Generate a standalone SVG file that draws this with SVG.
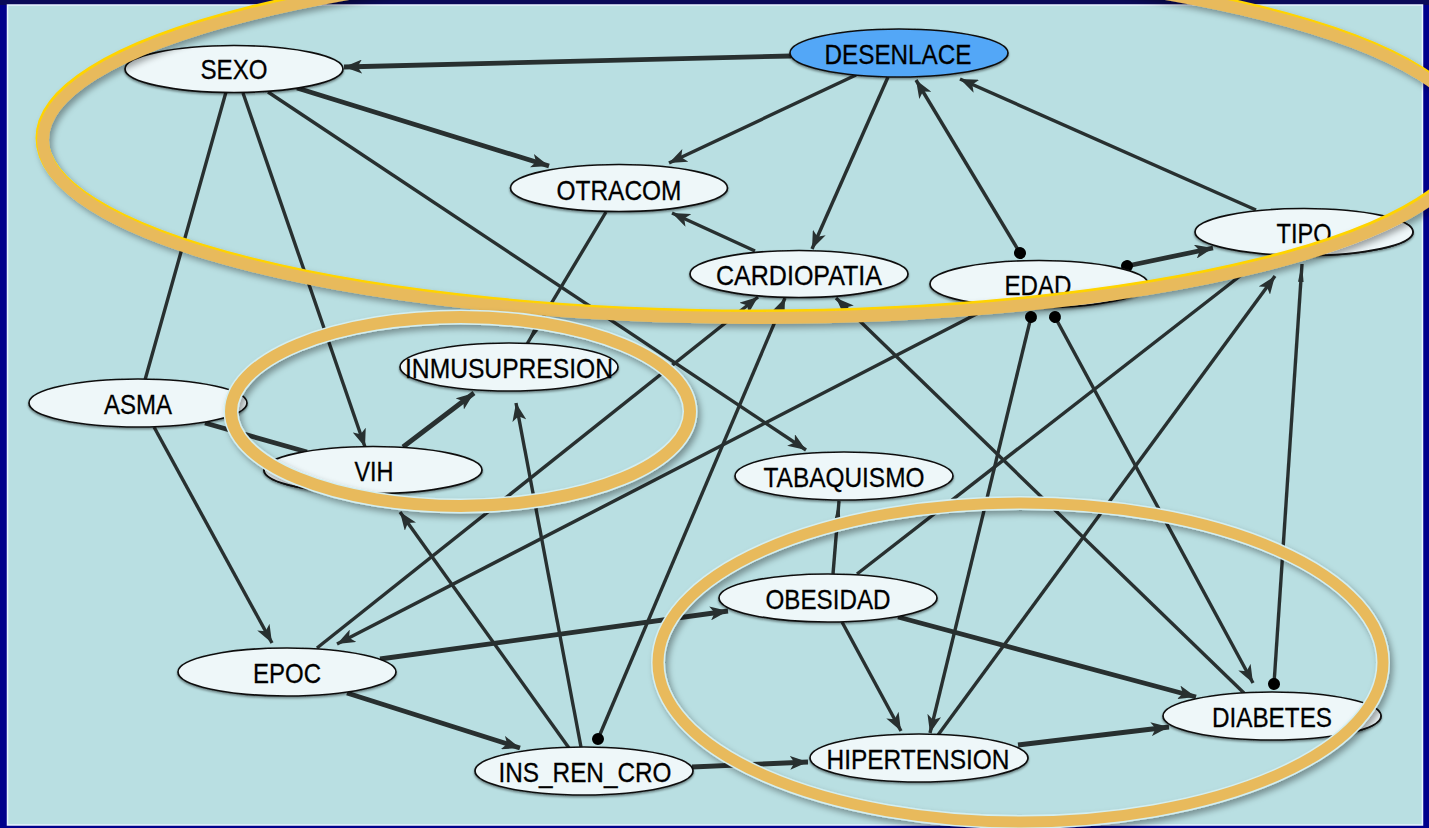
<svg xmlns="http://www.w3.org/2000/svg" width="1429" height="828" viewBox="0 0 1429 828">
  <style>
    .edge { stroke: #283030; stroke-width: 3.4; fill: none; }
    .thick { stroke-width: 4.8; }
    .node ellipse { fill: #eef7f9; stroke: #111; stroke-width: 1.7; }
    .node text { font-family: "Liberation Sans", Arial, sans-serif; font-size: 28.5px; fill: #000; text-anchor: middle; stroke: #000; stroke-width: 0.3; }
    .shade { fill: #b9bfc1; stroke: #111; stroke-width: 1.7; }
    .band { fill: none; }
  </style>
  <defs>
    <marker id="arrow" markerUnits="userSpaceOnUse" viewBox="0 0 18 14" refX="18" refY="7" markerWidth="18" markerHeight="14" orient="auto">
      <path d="M0,0 L18,7 L0,14 L4.5,7 z" fill="#283030"/>
    </marker>
    <marker id="arrowThin" markerUnits="userSpaceOnUse" viewBox="0 0 18 14" refX="18" refY="7" markerWidth="18" markerHeight="14" orient="auto">
      <path d="M0,4.2 L18,7 L0,9.8 z" fill="#283030"/>
    </marker>
    <marker id="dot" markerUnits="userSpaceOnUse" viewBox="0 0 13 13" refX="6.5" refY="6.5" markerWidth="13" markerHeight="13" orient="auto">
      <circle cx="6.5" cy="6.5" r="6" fill="#000"/>
    </marker>
    <filter id="nodeShadow" x="-10%" y="-30%" width="120%" height="170%">
      <feDropShadow dx="0" dy="1.5" stdDeviation="1" flood-color="#000" flood-opacity="0.45"/>
    </filter>
    <filter id="bandShadow" x="-5%" y="-10%" width="110%" height="125%">
      <feDropShadow dx="3" dy="4" stdDeviation="3" flood-color="#000" flood-opacity="0.35"/>
    </filter>
    <!-- regions lying outside each highlight ring -->
    <clipPath id="outBig">
      <path clip-rule="evenodd" d="M0,0 H1429 V828 H0 Z M43,140 a714,178 0 1,0 1428,0 a714,178 0 1,0 -1428,0 Z"/>
    </clipPath>
    <clipPath id="outSmall">
      <path clip-rule="evenodd" d="M0,0 H1429 V828 H0 Z M231,411.5 a229.5,94.5 0 1,0 459,0 a229.5,94.5 0 1,0 -459,0 Z"/>
    </clipPath>
    <clipPath id="outLow">
      <path clip-rule="evenodd" d="M0,0 H1429 V828 H0 Z M658,662.5 a362.5,159.5 0 1,0 725,0 a362.5,159.5 0 1,0 -725,0 Z"/>
    </clipPath>
  </defs>

  <!-- frame and panel -->
  <rect x="0" y="0" width="1429" height="828" fill="#00008c"/>
  <rect x="0" y="0" width="1429" height="5" fill="#0a0a58"/>
  <rect x="7.5" y="5" width="1415" height="820" fill="#b9dfe2" stroke="#e8f4ff" stroke-width="1.5"/>

  <!-- connectors -->
  <g id="connectors">
    <line class="edge thick" x1="791" y1="56" x2="344" y2="67" marker-end="url(#arrow)"/>
    <line class="edge thick" x1="297" y1="88" x2="549" y2="166" marker-end="url(#arrow)"/>
    <line class="edge" x1="856" y1="75" x2="669" y2="163" marker-end="url(#arrow)"/>
    <line class="edge" x1="888" y1="77" x2="812" y2="249" marker-end="url(#arrow)"/>
    <line class="edge" x1="1020" y1="253" x2="916" y2="80" marker-start="url(#dot)" marker-end="url(#arrow)"/>
    <line class="edge" x1="1256" y1="210" x2="960" y2="79" marker-end="url(#arrow)"/>
    <line class="edge thick" x1="1127" y1="266" x2="1213" y2="248" marker-start="url(#dot)" marker-end="url(#arrow)"/>
    <line class="edge" x1="755" y1="251" x2="672" y2="213" marker-end="url(#arrow)"/>
    <line class="edge" x1="226" y1="92" x2="145" y2="380"/>
    <line class="edge" x1="243" y1="93" x2="365" y2="447" marker-end="url(#arrow)"/>
    <line class="edge" x1="268" y1="92" x2="806" y2="450" marker-end="url(#arrow)"/>
    <line class="edge" x1="606" y1="212" x2="527" y2="344" marker-end="url(#arrowThin)"/>
    <line class="edge thick" x1="205" y1="423" x2="307" y2="452"/>
    <line class="edge" x1="154" y1="427" x2="272" y2="643" marker-end="url(#arrow)"/>
    <line class="edge thick" x1="403" y1="447" x2="474" y2="393" marker-end="url(#arrow)"/>
    <line class="edge" x1="569" y1="748" x2="400" y2="512" marker-end="url(#arrow)"/>
    <line class="edge" x1="581" y1="747" x2="516" y2="403" marker-end="url(#arrow)"/>
    <line class="edge" x1="317" y1="648" x2="758" y2="297" marker-end="url(#arrow)"/>
    <line class="edge" x1="992" y1="306" x2="337" y2="644" marker-start="url(#dot)" marker-end="url(#arrow)"/>
    <line class="edge" x1="598" y1="739" x2="785" y2="298" marker-start="url(#dot)" marker-end="url(#arrow)"/>
    <line class="edge" x1="1245" y1="694" x2="836" y2="298" marker-end="url(#arrow)"/>
    <line class="edge" x1="857" y1="574" x2="1258" y2="262" marker-end="url(#arrowThin)"/>
    <line class="edge" x1="938" y1="735" x2="1275" y2="276" marker-end="url(#arrow)"/>
    <line class="edge" x1="1274" y1="684" x2="1302" y2="264" marker-start="url(#dot)" marker-end="url(#arrowThin)"/>
    <line class="edge" x1="1031" y1="317" x2="930" y2="733" marker-start="url(#dot)" marker-end="url(#arrow)"/>
    <line class="edge" x1="1055" y1="317" x2="1253" y2="683" marker-start="url(#dot)" marker-end="url(#arrow)"/>
    <line class="edge" x1="842" y1="622" x2="901" y2="731" marker-end="url(#arrow)"/>
    <line class="edge thick" x1="898" y1="617" x2="1196" y2="697" marker-end="url(#arrow)"/>
    <line class="edge thick" x1="1018" y1="745" x2="1169" y2="727" marker-end="url(#arrow)"/>
    <line class="edge thick" x1="692" y1="767" x2="808" y2="762" marker-end="url(#arrow)"/>
    <line class="edge thick" x1="380" y1="659" x2="728" y2="611" marker-end="url(#arrow)"/>
    <line class="edge thick" x1="347" y1="693" x2="520" y2="748" marker-end="url(#arrow)"/>
    <line class="edge" x1="833" y1="574" x2="839" y2="501" marker-end="url(#arrowThin)"/>
  </g>

  <!-- nodes -->
  <g id="node-sexo" class="node"><ellipse cx="234" cy="69" rx="109" ry="23.5" filter="url(#nodeShadow)"/><text x="234" y="79" textLength="67" lengthAdjust="spacingAndGlyphs">SEXO</text></g>
  <g id="node-desenlace" class="node"><ellipse cx="899" cy="53" rx="109" ry="24" style="fill:#52a7f7" filter="url(#nodeShadow)"/><text x="898" y="64" textLength="147" lengthAdjust="spacingAndGlyphs">DESENLACE</text></g>
  <g id="node-otracom" class="node"><ellipse cx="619" cy="188" rx="108.5" ry="23.5" filter="url(#nodeShadow)"/><text x="619" y="200" textLength="125" lengthAdjust="spacingAndGlyphs">OTRACOM</text></g>
  <g id="node-cardiopatia" class="node"><ellipse cx="799" cy="274" rx="109" ry="23.5" filter="url(#nodeShadow)"/><text x="799" y="285" textLength="166" lengthAdjust="spacingAndGlyphs">CARDIOPATIA</text></g>
  <g id="node-edad" class="node"><ellipse cx="1039" cy="284" rx="109" ry="23.5" filter="url(#nodeShadow)"/><text x="1038" y="295" textLength="67" lengthAdjust="spacingAndGlyphs">EDAD</text></g>
  <g id="node-tipo" class="node"><ellipse cx="1304" cy="232" rx="109" ry="23.5" filter="url(#nodeShadow)"/><ellipse class="shade" cx="1304" cy="232" rx="109" ry="23.5" clip-path="url(#outBig)"/><text x="1304" y="243" textLength="55" lengthAdjust="spacingAndGlyphs">TIPO</text></g>
  <g id="node-asma" class="node"><ellipse cx="138" cy="403" rx="109" ry="24" filter="url(#nodeShadow)"/><text x="138" y="414" textLength="68" lengthAdjust="spacingAndGlyphs">ASMA</text></g>
  <g id="node-inmusupresion" class="node"><ellipse cx="509" cy="367" rx="109" ry="24" filter="url(#nodeShadow)"/><text x="509" y="378" textLength="208" lengthAdjust="spacingAndGlyphs">INMUSUPRESION</text></g>
  <g id="node-vih" class="node"><ellipse cx="373" cy="470" rx="109" ry="23.5" filter="url(#nodeShadow)"/><ellipse class="shade" cx="373" cy="470" rx="109" ry="23.5" clip-path="url(#outSmall)"/><text x="374" y="481" textLength="39" lengthAdjust="spacingAndGlyphs">VIH</text></g>
  <g id="node-tabaquismo" class="node"><ellipse cx="844" cy="476" rx="109" ry="24" filter="url(#nodeShadow)"/><text x="844" y="487" textLength="161" lengthAdjust="spacingAndGlyphs">TABAQUISMO</text></g>
  <g id="node-obesidad" class="node"><ellipse cx="828" cy="598" rx="109" ry="24" filter="url(#nodeShadow)"/><text x="828" y="609" textLength="125" lengthAdjust="spacingAndGlyphs">OBESIDAD</text></g>
  <g id="node-epoc" class="node"><ellipse cx="287" cy="672" rx="109" ry="24" filter="url(#nodeShadow)"/><text x="287" y="683" textLength="68" lengthAdjust="spacingAndGlyphs">EPOC</text></g>
  <g id="node-ins-ren-cro" class="node"><ellipse cx="584" cy="771" rx="109" ry="24" filter="url(#nodeShadow)"/><text x="585" y="782" textLength="173" lengthAdjust="spacingAndGlyphs">INS_REN_CRO</text></g>
  <g id="node-hipertension" class="node"><ellipse cx="919" cy="758" rx="109" ry="24" filter="url(#nodeShadow)"/><text x="918" y="769" textLength="183" lengthAdjust="spacingAndGlyphs">HIPERTENSION</text></g>
  <g id="node-diabetes" class="node"><ellipse cx="1272" cy="716" rx="109" ry="24" filter="url(#nodeShadow)"/><ellipse class="shade" cx="1272" cy="716" rx="109" ry="24" clip-path="url(#outLow)"/><text x="1272" y="727" textLength="120" lengthAdjust="spacingAndGlyphs">DIABETES</text></g>

  <!-- highlight rings drawn over the graph -->
  <g id="rings" class="band">
    <g filter="url(#bandShadow)">
      <ellipse cx="757" cy="140" rx="714" ry="178" stroke="#ffd400" stroke-width="13" fill="none" transform="translate(-1,-2)"/>
      <ellipse cx="757" cy="140" rx="714" ry="178" stroke="#e8ba5c" stroke-width="12" fill="none"/>
    </g>
    <g filter="url(#bandShadow)">
      <ellipse cx="460.5" cy="411.5" rx="229.5" ry="94.5" stroke="#d4eef0" stroke-width="15" fill="none"/>
      <ellipse cx="460.5" cy="411.5" rx="229.5" ry="94.5" stroke="#e8ba5c" stroke-width="12" fill="none"/>
    </g>
    <g filter="url(#bandShadow)">
      <ellipse cx="1020.5" cy="662.5" rx="362.5" ry="159.5" stroke="#d4eef0" stroke-width="14" fill="none"/>
      <ellipse cx="1020.5" cy="662.5" rx="362.5" ry="159.5" stroke="#e8ba5c" stroke-width="11" fill="none"/>
    </g>
  </g>
</svg>
